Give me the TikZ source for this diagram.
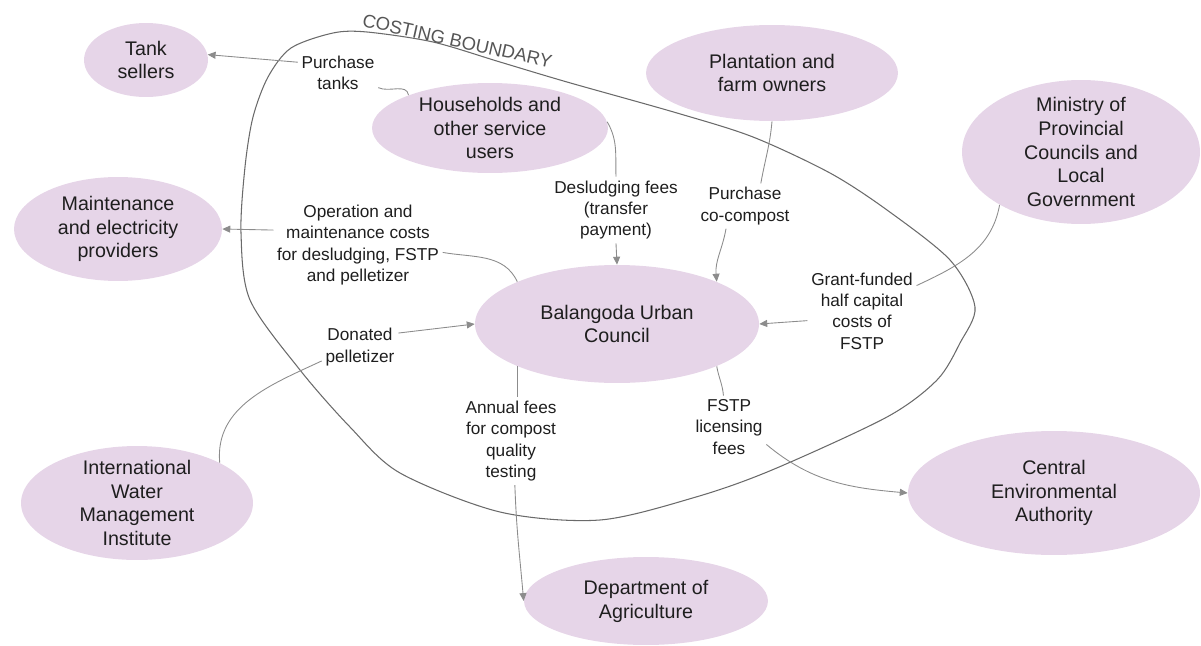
\documentclass[tikz,border=0pt]{standalone}
\usepackage{fontspec}
\setmainfont{Liberation Sans}
\usetikzlibrary{shapes.geometric,arrows.meta}
\definecolor{lilac}{HTML}{E6D5E8}
\definecolor{linkgray}{HTML}{8C8C8C}
\definecolor{inkcol}{HTML}{1E1E1E}
\definecolor{edgegray}{HTML}{6A6A6A}
\begin{document}
\begin{tikzpicture}[x=0.02cm,y=-0.02cm,
  party/.style={ellipse, fill=lilac, inner xsep=0pt, inner ysep=-6pt, align=center,
    text=inkcol, font=\fontsize{11.2}{13.6}\selectfont},
  flowlabel/.style={align=center, inner sep=2pt, text=inkcol,
    font=\fontsize{9.8}{12.2}\selectfont},
  link/.style={draw=linkgray, line width=0.5pt},
  flow/.style={link, -{Triangle[length=4.5pt,width=4pt]}},
  boundary/.style={draw=edgegray, line width=0.6pt}]
\useasboundingbox (0,0) rectangle (1201,646);

% costing boundary
\draw[boundary] plot[smooth cycle] coordinates {
  (268,77) (291,48) (333,33) (367,32) (433,42) (500,62) (567,82) (677,113)
  (753,137) (830,173) (887,210) (950,260) (975,307) (960,343) (937,380)
  (887,417) (772,470) (696,497) (600,520) (500,512) (400,473) (350,427)
  (300,370) (250,300) (241,233) (245,167) (253,117)};
\node[font=\fontsize{10.5}{12}\selectfont, text=edgegray!80!black, rotate=-12.5, anchor=base]
  (costing) at (456,47) {COSTING BOUNDARY};

% stakeholders
\node[party, minimum width=2.48cm, minimum height=1.48cm] (tank) at (146,60) {Tank\\sellers};
\node[party, minimum width=4.72cm, minimum height=1.80cm] (house) at (490,128) {Households and\\other service\\users};
\node[party, minimum width=4.16cm, minimum height=2.08cm] (maint) at (118,229) {Maintenance\\and electricity\\providers};
\node[party, minimum width=5.04cm, minimum height=1.92cm] (plant) at (772,73) {Plantation and\\farm owners};
\node[party, minimum width=4.76cm, minimum height=2.88cm] (ministry) at (1081,152) {Ministry of\\Provincial\\Councils and\\Local\\Government};
\node[party, minimum width=5.68cm, minimum height=2.36cm] (council) at (617,324) {Balangoda Urban\\Council};
\node[party, minimum width=4.64cm, minimum height=2.28cm] (iwmi) at (137,503) {International\\Water\\Management\\Institute};
\node[party, minimum width=4.88cm, minimum height=1.76cm] (agri) at (646,601) {Department of\\Agriculture};
\node[party, minimum width=5.84cm, minimum height=2.48cm] (cea) at (1054,493) {Central\\Environmental\\Authority};

% flow labels
\node[flowlabel] (lTank) at (338,73) {Purchase\\tanks};
\node[flowlabel] (lOM) at (358,245) {Operation and\\maintenance costs\\for desludging, FSTP\\and pelletizer};
\node[flowlabel] (lDes) at (616,210) {Desludging fees\\(transfer\\payment)};
\node[flowlabel] (lCo) at (745,206) {Purchase\\co-compost};
\node[flowlabel] (lGrant) at (862,311) {Grant-funded\\half capital\\costs of\\FSTP};
\node[flowlabel] (lDon) at (360,347) {Donated\\pelletizer};
\node[flowlabel] (lAnn) at (511,441) {Annual fees\\for compost\\quality\\testing};
\node[flowlabel] (lFstp) at (729,427) {FSTP\\licensing\\fees};

% money flows
\draw[link] (house.158) to[out=100,in=-25] (lTank.-20);
\draw[flow] (lTank.165) -- (tank.5);

\draw[link] (house.3) to[out=-60,in=92] (lDes.north);
\draw[flow] (lDes.south) -- (council.north);

\draw[link] (plant.south) to[out=-95,in=80] (lCo.55);
\draw[flow] (lCo.-130) to[out=-100,in=95] (council.23);

\draw[link] (ministry.213) to[out=-100,in=25] (lGrant.25);
\draw[flow] (lGrant.190) -- (council.east);

\draw[link] (council.157) to[out=115,in=-10] (lOM.-5);
\draw[flow] (lOM.170) -- (maint.east);

\draw[link] (iwmi.26) to[out=95,in=-155] (lDon.200);
\draw[flow] (lDon.20) -- (council.west);

\draw[link] (council.203) -- (council.203 |- lAnn.north);
\draw[flow] (lAnn.-85) to[out=-88,in=95] (agri.west);

\draw[link] (council.-23) to[out=-80,in=95] (lFstp.100);
\draw[flow] (lFstp.-25) to[out=-40,in=175] (cea.west);
\end{tikzpicture}
\end{document}
